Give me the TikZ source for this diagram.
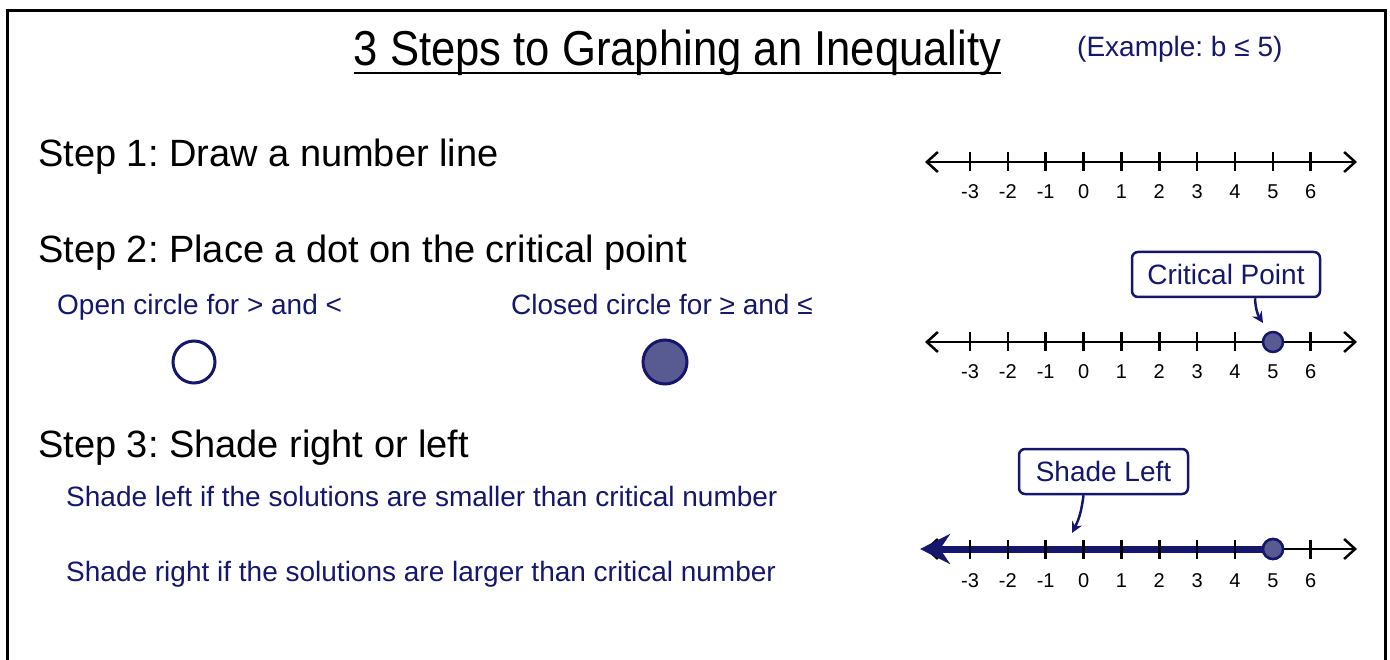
\documentclass[tikz,border=0pt]{standalone}
\usepackage{fontspec}
\setmainfont{Liberation Sans}
\newfontfamily\titlefont[FakeStretch=0.89]{Liberation Sans}
\usetikzlibrary{arrows.meta, positioning}
\definecolor{navy}{HTML}{14176B}
\definecolor{dotfill}{HTML}{575B92}
\frenchspacing
\tikzset{
    steplabel/.style={anchor=base west, inner sep=0, font=\fontsize{38}{44}\selectfont},
    hint/.style={anchor=base west, inner sep=0, text=navy, font=\fontsize{28}{32}\selectfont},
    callout/.style={draw=navy, line width=2.5pt, rounded corners=6pt, fill=white, text=navy, font=\fontsize{28}{32}\selectfont, minimum height=45pt, inner sep=0},
    numaxis/.style={line width=2.5pt, {Straight Barb[length=11pt,width=20pt]}-{Straight Barb[length=11pt,width=20pt]}},
    tickmark/.style={line width=2.5pt},
    numlbl/.style={anchor=base, inner sep=0, font=\fontsize{20}{22}\selectfont},
    ptdot/.style={circle, draw=navy, fill=dotfill, line width=2.5pt, minimum size=20pt, inner sep=0},
    bigdot/.style={circle, draw=navy, line width=3pt, minimum size=42pt, inner sep=0},
    callarrow/.style={draw=navy, line width=2.5pt, -{Stealth[length=11pt,width=11pt]}},
    shadeline/.style={draw=navy, line width=7pt, -{Stealth[length=30pt,width=30pt,inset=10pt]}}
}
\begin{document}
\begin{tikzpicture}[x=1pt, y=-1pt]
    \useasboundingbox (0,0) rectangle (1390,660);
    \draw[line width=3pt] (7,660) -- (7,11) -- (1385,11) -- (1385,660);

    % title
    \node[anchor=base, inner sep=0, font=\titlefont\fontsize{49}{56}\selectfont] (title) at (677.5,66) {3 Steps to Graphing an Inequality};
    \draw[line width=2.5pt] ([yshift=-7pt]title.base west) -- ([yshift=-7pt]title.base east);
    \node[hint] (example) at (1077,57) {(Example: b ≤ 5)};

    % steps
    \node[steplabel] (s1) at (38,167) {Step 1: Draw a number line};
    \node[steplabel] (s2) at (38,263) {Step 2: Place a dot on the critical point};
    \node[hint] (open) at (57,315) {Open circle for > and <};
    \node[hint] (closed) at (511,315) {Closed circle for ≥ and ≤};
    \node[bigdot, fill=white] (opendot) at (194,362) {};
    \node[bigdot, fill=dotfill, minimum size=44pt] (closeddot) at (665,362) {};
    \node[steplabel] (s3) at (38,457) {Step 3: Shade right or left};
    \node[hint] (left) at (66,506) {Shade left if the solutions are smaller than critical number};
    \node[hint] (right) at (66,581) {Shade right if the solutions are larger than critical number};

    % number line 1
    \coordinate (a0) at (925,162);
    \coordinate (a1) at (1357,162);
    \draw[numaxis] (a0) -- (a1);
    \foreach \n [count=\k from 0] in {-3,...,6} {
        \draw[tickmark] (970+37.85*\k,152.5) -- (970+37.85*\k,171.5);
        \node[numlbl] (la\k) at (970+37.85*\k,199) {\n};
    }

    % number line 2
    \coordinate (b0) at (925,342);
    \coordinate (b1) at (1357,342);
    \draw[numaxis] (b0) -- (b1);
    \foreach \n [count=\k from 0] in {-3,...,6} {
        \draw[tickmark] (970+37.85*\k,332.5) -- (970+37.85*\k,351.5);
        \node[numlbl] (lb\k) at (970+37.85*\k,378) {\n};
    }
    \node[ptdot] (dotb) at (1273,342) {};
    \node[callout, minimum width=188pt] (crit) at (1226,274.5) {Critical Point};
    \coordinate (crittip) at (1263,323);
    \draw[callarrow] ([xshift=29pt]crit.south) to[bend right=15] (crittip);

    % number line 3
    \coordinate (c0) at (925,549);
    \coordinate (c1) at (1357,549);
    \coordinate (shadetip) at (920,549);
    \draw[numaxis] (c0) -- (c1);
    \node[ptdot] (dotc) at (1273,549) {};
    \draw[shadeline] (dotc.center) -- (shadetip);
    \foreach \n [count=\k from 0] in {-3,...,6} {
        \draw[tickmark] (970+37.85*\k,539.5) -- (970+37.85*\k,558.5);
        \node[numlbl] (lc\k) at (970+37.85*\k,587) {\n};
    }
    \node[ptdot] at (dotc) {};
    \node[callout, minimum width=169pt] (shade) at (1103.5,471.5) {Shade Left};
    \coordinate (shadearr) at (1072,533);
    \draw[callarrow] ([xshift=-20pt]shade.south) to[bend left=10] (shadearr);
\end{tikzpicture}
\end{document}
